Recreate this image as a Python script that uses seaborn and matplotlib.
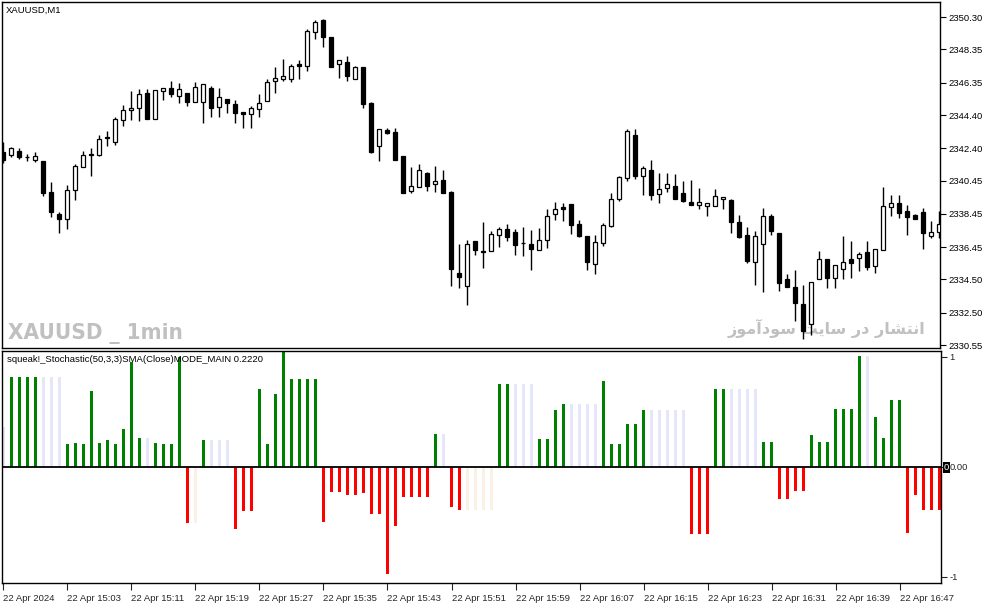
import numpy as np
import pandas as pd
import matplotlib
matplotlib.use("Agg")
import matplotlib.pyplot as plt
import seaborn as sns
from matplotlib import font_manager as fm
from matplotlib import ft2font
from matplotlib.transforms import blended_transform_factory

# ---------------- data ----------------
opens = [2342.20, 2342.00, 2342.24, 2341.88, 2341.69, 2341.63, 2339.77, 2338.44, 2338.12, 2339.87,
         2341.26, 2342.03, 2342.01, 2343.04, 2342.80, 2344.10, 2344.69, 2344.85, 2345.73, 2344.15,
         2345.85, 2346.01, 2345.55, 2345.71, 2345.21, 2345.17, 2346.01, 2344.87, 2345.39, 2345.05,
         2344.57, 2344.45, 2344.75, 2345.23, 2346.44, 2346.56, 2346.56, 2347.46, 2347.34, 2349.39,
         2350.13, 2349.09, 2347.46, 2347.58, 2346.59, 2347.28, 2345.13, 2342.52, 2343.48, 2343.36,
         2341.92, 2339.81, 2340.05, 2340.91, 2340.23, 2340.47, 2339.77, 2334.87, 2334.13, 2336.80,
         2336.17, 2336.19, 2337.16, 2337.52, 2337.34, 2336.68, 2336.62, 2336.26, 2336.86, 2338.42,
         2338.85, 2339.03, 2337.82, 2337.10, 2335.41, 2336.68, 2337.74, 2339.33, 2340.59, 2343.18,
         2340.71, 2341.07, 2339.63, 2339.99, 2340.11, 2339.69, 2339.15, 2338.97, 2338.92, 2338.90,
         2339.33, 2339.29, 2337.94, 2337.16, 2335.53, 2336.62, 2338.30, 2337.30, 2334.53, 2334.03,
         2333.00, 2331.83, 2334.54, 2335.71, 2334.57, 2335.11, 2335.71, 2335.77, 2336.13, 2335.29,
         2336.26, 2338.84, 2339.09, 2338.60, 2338.36, 2338.54, 2337.10, 2337.34]
highs = [2342.80, 2342.50, 2342.44, 2342.06, 2342.20, 2341.63, 2340.37, 2338.56, 2340.19, 2341.45,
         2342.24, 2342.44, 2343.18, 2343.44, 2344.27, 2345.01, 2345.87, 2345.95, 2345.95, 2345.89,
         2346.01, 2346.45, 2346.32, 2345.71, 2346.39, 2346.26, 2346.13, 2346.01, 2345.39, 2345.31,
         2344.57, 2344.93, 2345.67, 2346.56, 2347.32, 2347.78, 2347.46, 2347.72, 2349.57, 2350.13,
         2350.20, 2349.09, 2347.70, 2347.96, 2347.36, 2347.28, 2345.19, 2343.54, 2343.62, 2343.62,
         2341.92, 2341.29, 2341.45, 2340.95, 2341.33, 2341.09, 2339.83, 2336.62, 2336.88, 2336.80,
         2337.96, 2337.42, 2337.66, 2337.84, 2337.54, 2337.66, 2337.48, 2337.60, 2338.72, 2339.16,
         2339.09, 2339.03, 2338.08, 2337.10, 2337.16, 2337.88, 2339.69, 2340.71, 2343.54, 2343.54,
         2341.32, 2341.68, 2340.89, 2340.89, 2340.83, 2340.41, 2340.47, 2340.01, 2339.09, 2339.93,
         2339.45, 2339.33, 2338.36, 2337.64, 2337.40, 2338.78, 2338.42, 2337.30, 2334.81, 2335.07,
         2334.15, 2334.32, 2336.21, 2335.71, 2335.35, 2337.12, 2336.81, 2336.13, 2336.81, 2336.35,
         2340.05, 2339.57, 2339.57, 2339.00, 2338.42, 2338.78, 2338.00, 2338.60]
lows = [2341.50, 2341.86, 2341.76, 2341.65, 2341.56, 2339.54, 2338.28, 2337.32, 2337.54, 2339.29,
        2341.26, 2340.75, 2341.95, 2342.56, 2342.60, 2343.76, 2344.10, 2344.06, 2344.15, 2344.15,
        2345.31, 2345.51, 2345.15, 2344.97, 2345.21, 2343.91, 2344.30, 2344.30, 2344.51, 2343.94,
        2343.60, 2343.60, 2344.30, 2345.23, 2345.71, 2346.47, 2346.38, 2346.59, 2347.07, 2349.00,
        2348.52, 2347.32, 2346.65, 2346.47, 2346.56, 2344.85, 2342.13, 2341.65, 2343.24, 2341.71,
        2339.72, 2339.72, 2340.05, 2339.85, 2339.77, 2339.72, 2334.12, 2334.00, 2332.98, 2335.99,
        2335.21, 2336.19, 2336.47, 2336.80, 2335.99, 2335.93, 2335.09, 2336.26, 2336.41, 2338.10,
        2338.04, 2337.26, 2337.07, 2335.09, 2334.85, 2336.53, 2337.68, 2339.21, 2340.41, 2340.53,
        2339.60, 2339.27, 2339.09, 2339.79, 2339.33, 2339.15, 2338.98, 2338.72, 2338.34, 2338.90,
        2338.72, 2337.32, 2337.01, 2335.51, 2334.15, 2333.72, 2337.16, 2333.78, 2334.03, 2332.01,
        2330.89, 2331.17, 2334.54, 2333.97, 2334.00, 2334.54, 2334.60, 2335.02, 2335.05, 2334.90,
        2336.26, 2338.30, 2338.22, 2337.16, 2338.16, 2336.35, 2336.98, 2336.98]
closes = [2341.69, 2342.40, 2341.89, 2341.86, 2341.94, 2339.72, 2338.54, 2338.14, 2339.87, 2341.33,
          2341.98, 2342.01, 2342.94, 2343.03, 2344.15, 2344.71, 2344.83, 2345.65, 2344.15, 2345.89,
          2346.01, 2345.65, 2345.95, 2345.21, 2346.07, 2346.26, 2344.81, 2345.47, 2345.11, 2344.54,
          2344.45, 2344.81, 2345.11, 2346.39, 2346.62, 2346.74, 2347.36, 2347.38, 2349.47, 2349.99,
          2349.12, 2347.32, 2347.70, 2346.77, 2347.28, 2345.09, 2342.20, 2343.54, 2343.34, 2341.71,
          2339.72, 2340.11, 2341.07, 2340.15, 2340.41, 2339.72, 2335.11, 2334.63, 2336.62, 2336.29,
          2336.16, 2337.22, 2337.52, 2337.04, 2336.59, 2336.67, 2336.35, 2336.86, 2338.30, 2338.72,
          2338.76, 2337.80, 2337.14, 2335.57, 2336.74, 2337.76, 2339.33, 2340.65, 2343.42, 2340.71,
          2341.20, 2339.57, 2339.93, 2340.23, 2339.33, 2339.21, 2339.00, 2339.15, 2339.09, 2339.51,
          2339.45, 2337.98, 2337.06, 2335.61, 2337.10, 2338.30, 2337.40, 2334.30, 2334.03, 2333.06,
          2331.41, 2334.32, 2335.71, 2334.60, 2335.35, 2335.53, 2335.47, 2336.01, 2335.27, 2336.35,
          2338.90, 2339.09, 2338.52, 2338.24, 2338.16, 2337.32, 2337.34, 2337.82]

stoch_values = [0.364, 0.818, 0.818, 0.818, 0.818, 0.818, 0.818, 0.818, 0.209, 0.218,
                0.209, 0.685, 0.218, 0.245, 0.209, 0.345, 0.948, 0.264, 0.264, 0.218,
                0.209, 0.209, 1.000, -0.506, -0.506, 0.245, 0.245, 0.245, 0.245, -0.561,
                -0.406, -0.406, 0.709, 0.209, 0.664, 1.045, 0.800, 0.800, 0.800, 0.800,
                -0.497, -0.233, -0.233, -0.252, -0.252, -0.242, -0.433, -0.433, -0.970, -0.542,
                -0.279, -0.279, -0.279, -0.279, 0.300, 0.300, -0.361, -0.388, -0.388, -0.388,
                -0.388, -0.388, 0.755, 0.755, 0.755, 0.755, 0.755, 0.255, 0.255, 0.518,
                0.573, 0.573, 0.573, 0.573, 0.573, 0.782, 0.209, 0.209, 0.391, 0.391,
                0.518, 0.518, 0.518, 0.518, 0.518, 0.518, -0.606, -0.606, -0.606, 0.709,
                0.709, 0.709, 0.709, 0.709, 0.709, 0.227, 0.227, -0.297, -0.297, -0.224,
                -0.224, 0.291, 0.227, 0.227, 0.527, 0.527, 0.527, 1.009, 1.009, 0.455,
                0.264, 0.609, 0.609, -0.597, -0.252, -0.397, -0.397, -0.397]
# state: U = rising (green), u = flat up (lavender), D = falling (red), d = flat down (linen)
stoch_states = list("uUUUUuuuUUUUUUUUUUuUUUUDdUuuuDDDUUUUUUUUDDDDDDDDDDDDDDUuDDdddd"
                    "UUuuuUUUUuuuuUUUUUUuuuuuDDDUUuuuuUUDDDDUUUUUUUuUUUUDDDDD")

price_tick_values = [2350.30, 2348.35, 2346.35, 2344.40, 2342.40, 2340.45,
                     2338.45, 2336.45, 2334.50, 2332.50, 2330.55]
price_tick_labels = ["2350.30", "2348.35", "2346.35", "2344.40", "2342.40", "2340.45",
                     "2338.45", "2336.45", "2334.50", "2332.50", "2330.55"]
time_tick_labels = ["22 Apr 2024", "22 Apr 15:03", "22 Apr 15:11", "22 Apr 15:19",
                    "22 Apr 15:27", "22 Apr 15:35", "22 Apr 15:43", "22 Apr 15:51",
                    "22 Apr 15:59", "22 Apr 16:07", "22 Apr 16:15", "22 Apr 16:23",
                    "22 Apr 16:31", "22 Apr 16:39", "22 Apr 16:47"]
stoch_tick_values = [1, 0, -1]
stoch_tick_labels = ["1", "0.00", "-1"]

chart_title = "XAUUSD,M1"
indicator_title = "squeak!_Stochastic(50,3,3)SMA(Close)MODE_MAIN 0.2220"
watermark_left = "XAUUSD _ 1min"
watermark_right = "انتشار در سایت سودآموز"

# ---------------- style ----------------
sns.set_style("white")
plt.rcParams['font.family'] = ['Liberation Sans', 'DejaVu Sans']

W, H = 987, 605
fig = plt.figure(figsize=(W / 100, H / 100), dpi=100)
fig.patch.set_facecolor("white")


def px_box(l, t, r, b):
    return [l / W, 1 - b / H, (r - l) / W, (b - t) / H]


ax = fig.add_axes(px_box(2, 2, 940.5, 347.5))
ax2 = fig.add_axes(px_box(2, 350.5, 941, 583))

n = len(opens)
idx = np.arange(n)
o = np.array(opens); c = np.array(closes); h = np.array(highs); l = np.array(lows)
bull = c >= o

# ---- candles ----
ax.vlines(idx, l, h, color="black", linewidth=1.0, zorder=2)
body_low = np.minimum(o, c)
body_h = np.maximum(np.abs(c - o), 0.035)
ax.bar(idx, body_h, bottom=body_low, width=0.5,
       color=np.where(bull, "white", "black"), edgecolor="black",
       linewidth=0.9, zorder=3)

XMIN, XMAX = -0.16, 117.15
ax.set_xlim(XMIN, XMAX)
ax.set_ylim(2330.40, 2351.21)
ax.set_xticks([])
ax.yaxis.tick_right()
ax.set_yticks(price_tick_values)
ax.set_yticklabels(price_tick_labels)
ax.tick_params(axis="y", which="both", direction="out", length=4, width=0.8,
               pad=2, labelsize=6.8, colors="black", right=True, left=False)
for s in ax.spines.values():
    s.set_color("black"); s.set_linewidth(1.0); s.set_visible(True)

# ---- indicator histogram (seaborn) ----
df = pd.DataFrame({"bar": idx, "value": stoch_values, "state": stoch_states})
palette = {"U": "#008000", "u": "#E6E6FA", "D": "#FF0000", "d": "#FAF0E6"}
sns.barplot(data=df, x="bar", y="value", hue="state", hue_order=["U", "u", "D", "d"],
            palette=palette, native_scale=True, width=0.375, dodge=False,
            errorbar=None, legend=False, saturation=1, linewidth=0, ax=ax2, zorder=2)
ax2.axhline(0, color="black", linewidth=1.3, zorder=3)
ax2.set_xlim(XMIN, XMAX)
ax2.set_ylim(-1.055, 1.055)
ax2.set_xlabel(""); ax2.set_ylabel("")
ax2.yaxis.tick_right()
ax2.set_yticks(stoch_tick_values)
ax2.set_yticklabels(stoch_tick_labels)
ax2.set_xticks(idx[::8][:len(time_tick_labels)])
ax2.set_xticklabels(time_tick_labels)
for t in ax2.get_xticklabels():
    t.set_horizontalalignment("left")
ax2.tick_params(axis="y", direction="out", length=4, width=0.8, pad=2,
                labelsize=6.8, right=True, left=False)
ax2.tick_params(axis="x", direction="out", length=5, width=0.8, pad=3,
                labelsize=6.8, bottom=True)
for s in ax2.spines.values():
    s.set_color("black"); s.set_linewidth(1.0); s.set_visible(True)

# ---- texts ----
ax.text(6 / W, 1 - 10 / H, chart_title, transform=fig.transFigure, fontsize=6.8,
        ha="left", va="center", color="black", zorder=5)
ax2.text(7 / W, 1 - 359 / H, indicator_title, transform=fig.transFigure, fontsize=6.8,
         ha="left", va="center", color="#000000", zorder=5)

# current value marker box at zero level
fig.text(944 / W, 1 - 467.5 / H, "0", color="white", fontsize=6.8, ha="left", va="center",
         bbox=dict(facecolor="black", edgecolor="none", pad=0.5))

# watermark (left) - prefer a condensed bold font if available
wm_props = dict(weight="bold")
cond = [f for f in fm.fontManager.ttflist
        if (("Narrow" in f.name) or ("Condensed" in f.name) or f.stretch in ("condensed", "semi-condensed"))
        and (f.weight in ("bold", 700, "heavy", 800, 900))]
if cond:
    wm_font = fm.FontProperties(fname=cond[0].fname)
else:
    wm_font = fm.FontProperties(family="Liberation Sans", weight="bold")
wm_font.set_size(22)
t_left = ax.text(8 / W, 1 - 339 / H, watermark_left, transform=fig.transFigure,
                 fontproperties=wm_font, color="#C0C0C0", ha="left", va="baseline", zorder=1)

# Persian watermark: contextual shaping + visual order for matplotlib
AR_FORMS = {
    'ا': ('\uFE8D', '\uFE8E', None, None),
    'آ': ('\uFE81', '\uFE82', None, None),
    'ن': ('\uFEE5', '\uFEE6', '\uFEE7', '\uFEE8'),
    'ت': ('\uFE95', '\uFE96', '\uFE97', '\uFE98'),
    'ش': ('\uFEB5', '\uFEB6', '\uFEB7', '\uFEB8'),
    'ر': ('\uFEAD', '\uFEAE', None, None),
    'د': ('\uFEA9', '\uFEAA', None, None),
    'س': ('\uFEB1', '\uFEB2', '\uFEB3', '\uFEB4'),
    'ی': ('\uFBFC', '\uFBFD', '\uFBFE', '\uFBFF'),
    'و': ('\uFEED', '\uFEEE', None, None),
    'م': ('\uFEE1', '\uFEE2', '\uFEE3', '\uFEE4'),
    'ز': ('\uFEAF', '\uFEB0', None, None),
}
dv_path = fm.findfont(fm.FontProperties(family="DejaVu Sans", weight="bold"))
try:
    cmap = ft2font.FT2Font(dv_path).get_charmap()
except Exception:
    cmap = {}
if 0xFBFE not in cmap:
    AR_FORMS['ی'] = ('\uFEF1', '\uFEF2', '\uFEF3', '\uFEF4')


def shape_rtl(text):
    out = []
    for i, ch in enumerate(text):
        f = AR_FORMS.get(ch)
        if f is None:
            out.append(ch)
            continue
        prev = text[i - 1] if i > 0 else ''
        nxt = text[i + 1] if i + 1 < len(text) else ''
        jp = prev in AR_FORMS and AR_FORMS[prev][2] is not None
        jn = f[2] is not None and nxt in AR_FORMS
        if jp and jn:
            out.append(f[3])
        elif jn:
            out.append(f[2])
        elif jp:
            out.append(f[1])
        else:
            out.append(f[0])
    return ''.join(reversed(out))


t_right = ax.text(925 / W, 1 - 328 / H, shape_rtl(watermark_right), transform=fig.transFigure,
                  family=["DejaVu Sans"], weight="bold", fontsize=14, color="#C0C0C0",
                  ha="right", va="center", zorder=1)

# fit watermark widths to the reference
fig.canvas.draw()
r = fig.canvas.get_renderer()
for t, target in ((t_left, 174), (t_right, 198)):
    bb = t.get_window_extent(r)
    if bb.width > 0:
        t.set_fontsize(t.get_fontsize() * target / bb.width)

fig.savefig("out.png", dpi=100, facecolor="white")
